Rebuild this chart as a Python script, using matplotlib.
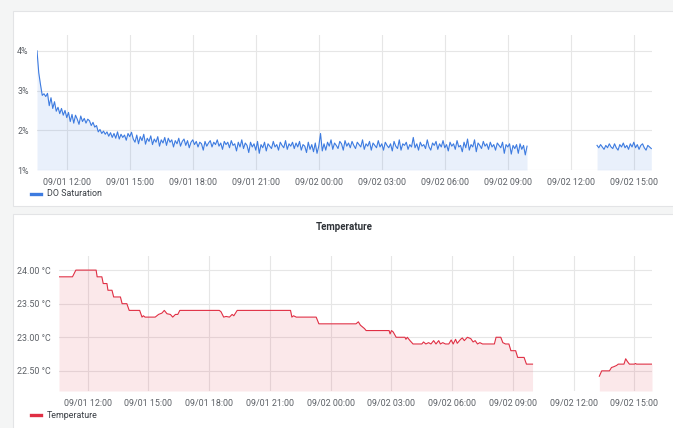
import matplotlib
matplotlib.use("Agg")
import matplotlib.pyplot as plt
import matplotlib.dates as mdates
from matplotlib.patches import Rectangle
from matplotlib.lines import Line2D
import numpy as np
import pandas as pd

plt.rcParams['font.family'] = ['Roboto', 'DejaVu Sans']

# ---------------- data ----------------
do_seg1_start = "2021-09-01 10:35"
do_seg1 = [
    4.0, 3.45, 3.15, 2.88, 2.92, 2.85, 2.93, 2.62, 2.82, 2.55, 2.72, 2.48, 2.58, 2.42, 2.55, 2.38,
    2.5, 2.32, 2.45, 2.22, 2.4, 2.18, 2.38, 2.28, 2.15, 2.36, 2.22, 2.3, 2.18, 2.28, 2.24, 2.12,
    2.2, 2.08, 2.12, 1.96, 2.02, 1.92, 1.98, 1.9, 1.96, 1.85, 1.94, 1.82, 1.92, 1.8, 1.96, 1.78,
    1.9, 1.82, 1.88, 1.75, 1.92, 1.84,
    1.95, 1.78, 1.70, 1.88, 1.66, 1.84, 1.74, 1.90, 1.65, 1.80, 1.72, 1.86, 1.64, 1.78, 1.70, 1.84, 1.60, 1.76, 1.68, 1.82,
    1.62, 1.80, 1.70, 1.76, 1.58, 1.74, 1.66, 1.80, 1.60, 1.72, 1.78, 1.62, 1.74, 1.56, 1.70, 1.76, 1.64, 1.72, 1.58, 1.70,
    1.66, 1.50, 1.72, 1.60, 1.68, 1.74, 1.58, 1.70, 1.64, 1.76, 1.60, 1.68, 1.52, 1.72, 1.64, 1.70, 1.56, 1.74, 1.62, 1.66,
    1.48, 1.70, 1.58, 1.76, 1.54, 1.68, 1.62, 1.44, 1.70, 1.58, 1.66, 1.50, 1.72, 1.42, 1.64, 1.56, 1.70, 1.48, 1.66, 1.60,
    1.54, 1.72, 1.58, 1.64, 1.50, 1.70, 1.62, 1.56, 1.74, 1.52, 1.66, 1.60, 1.70, 1.54, 1.68, 1.58, 1.72, 1.50, 1.64, 1.60,
    1.44, 1.70, 1.52, 1.64, 1.46, 1.68, 1.42, 1.60, 1.92, 1.48, 1.66, 1.50, 1.70, 1.60, 1.76, 1.52, 1.68, 1.62, 1.54, 1.72,
    1.66, 1.50, 1.74, 1.60, 1.68, 1.56, 1.72, 1.62, 1.54, 1.70, 1.64, 1.58, 1.76, 1.52, 1.66, 1.60, 1.72, 1.50, 1.68, 1.62,
    1.56, 1.74, 1.58, 1.66, 1.50, 1.70, 1.62, 1.56, 1.66, 1.48, 1.72, 1.60, 1.54, 1.76, 1.50, 1.66, 1.62, 1.70, 1.52, 1.64,
    1.58, 1.82, 1.56, 1.66, 1.50, 1.70, 1.60, 1.64, 1.54, 1.76, 1.58, 1.50, 1.68, 1.62, 1.72, 1.52, 1.66, 1.58, 1.74, 1.56,
    1.64, 1.48, 1.70, 1.60, 1.66, 1.52, 1.74, 1.58, 1.62, 1.46, 1.70, 1.56, 1.78, 1.50, 1.64, 1.58, 1.76, 1.46, 1.68, 1.62,
    1.54, 1.72, 1.60, 1.66, 1.52, 1.70, 1.58, 1.64, 1.50, 1.68, 1.62, 1.56, 1.70, 1.42, 1.64, 1.58, 1.66, 1.40, 1.62, 1.54,
    1.64, 1.42, 1.66, 1.52, 1.62, 1.38, 1.60,
]
do_seg2_start = "2021-09-02 13:15"
do_seg2 = [
    1.62, 1.56, 1.64, 1.58, 1.52, 1.62, 1.56, 1.66, 1.58, 1.54, 1.66, 1.56, 1.50, 1.64, 1.58, 1.68,
    1.56, 1.62, 1.52, 1.66, 1.58, 1.70, 1.56, 1.64, 1.52, 1.62, 1.66, 1.56, 1.50, 1.62, 1.58, 1.54,
]

temp_seg1_times = [
    "09-01 10:35", "09-01 11:15", "09-01 11:25", "09-01 12:25", "09-01 12:28", "09-01 12:42",
    "09-01 12:46", "09-01 12:57", "09-01 13:00", "09-01 13:12", "09-01 13:17", "09-01 13:37",
    "09-01 13:42", "09-01 13:56", "09-01 14:03", "09-01 14:34", "09-01 14:41", "09-01 14:45",
    "09-01 14:50", "09-01 15:20", "09-01 15:30", "09-01 15:40", "09-01 15:47", "09-01 15:55",
    "09-01 16:05", "09-01 16:12", "09-01 16:20", "09-01 16:27", "09-01 16:33", "09-01 18:30",
    "09-01 18:35", "09-01 18:43", "09-01 18:50", "09-01 19:00", "09-01 19:08", "09-01 19:13",
    "09-01 19:23", "09-01 22:01", "09-01 22:05", "09-01 22:10", "09-01 22:18", "09-01 23:17",
    "09-01 23:25", "09-02 01:15", "09-02 01:22", "09-02 01:28", "09-02 01:40", "09-02 01:45",
    "09-02 02:53", "09-02 02:56", "09-02 03:00", "09-02 03:05", "09-02 03:14", "09-02 03:40",
    "09-02 03:43", "09-02 03:47", "09-02 03:55", "09-02 04:04", "09-02 04:30", "09-02 04:35",
    "09-02 04:42", "09-02 04:50", "09-02 04:57", "09-02 05:05", "09-02 05:12", "09-02 05:20",
    "09-02 05:25", "09-02 05:32", "09-02 05:40", "09-02 05:50", "09-02 05:57", "09-02 06:03",
    "09-02 06:10", "09-02 06:15", "09-02 06:25", "09-02 06:30", "09-02 06:36", "09-02 06:45",
    "09-02 06:55", "09-02 07:02", "09-02 07:08", "09-02 07:15", "09-02 07:22", "09-02 07:30",
    "09-02 07:45", "09-02 08:05", "09-02 08:10", "09-02 08:24", "09-02 08:30", "09-02 08:38",
    "09-02 08:48", "09-02 08:54", "09-02 09:08", "09-02 09:14", "09-02 09:33", "09-02 09:40",
    "09-02 09:58",
]
temp_seg1_values = [
    23.90, 23.90, 24.00, 24.00, 23.90, 23.90,
    23.80, 23.80, 23.70, 23.70, 23.60, 23.60,
    23.50, 23.50, 23.40, 23.40, 23.30, 23.32,
    23.30, 23.30, 23.34, 23.36, 23.40, 23.35,
    23.34, 23.30, 23.34, 23.34, 23.40, 23.40,
    23.38, 23.30, 23.31, 23.30, 23.34, 23.32,
    23.40, 23.40, 23.30, 23.32, 23.30, 23.30,
    23.20, 23.20, 23.23, 23.18, 23.13, 23.10,
    23.10, 23.05, 23.10, 23.08, 23.00, 23.00,
    22.97, 23.00, 22.95, 22.90, 22.90, 22.93,
    22.90, 22.92, 22.90, 22.95, 22.90, 22.95,
    22.90, 22.92, 22.90, 22.90, 22.96, 22.90,
    22.97, 22.91, 22.97, 22.99, 22.95, 23.00,
    22.98, 22.93, 22.95, 22.90, 22.92, 22.90,
    22.90, 22.90, 23.00, 23.00, 22.92, 22.90,
    22.90, 22.80, 22.80, 22.70, 22.70, 22.60,
    22.60,
]
temp_seg2_times = [
    "09-02 13:16", "09-02 13:23", "09-02 13:46", "09-02 13:52", "09-02 13:58", "09-02 14:07",
    "09-02 14:12", "09-02 14:29", "09-02 14:34", "09-02 14:39", "09-02 14:45", "09-02 15:00",
    "09-02 15:03", "09-02 15:06", "09-02 15:52",
]
temp_seg2_values = [
    22.42, 22.50, 22.50, 22.55, 22.56, 22.58,
    22.60, 22.60, 22.68, 22.64, 22.60, 22.60,
    22.61, 22.60, 22.60,
]

x_start = "2021-09-01 10:35"
x_end = "2021-09-02 15:52"

# ---------------- styling ----------------
W, H = 673, 428
BG = "#f4f5f5"
PANEL_EDGE = "#e3e4e6"
GRID = "#e6e6e6"
TICK = "#5c6066"
BLUE = "#3d7be0"
RED = "#e02f44"
FS = 6.4

fig = plt.figure(figsize=(W / 100, H / 100), dpi=100)
fig.patch.set_facecolor(BG)

def fx(px):
    return px / W

def fy(py):
    return 1 - py / H

def panel(x0, y0, x1, y1):
    fig.patches.append(Rectangle((fx(x0), fy(y1)), fx(x1 - x0), (y1 - y0) / H,
                                 transform=fig.transFigure, facecolor="white",
                                 edgecolor=PANEL_EDGE, linewidth=0.8, zorder=-10))

panel(12.5, 11.5, 680, 206.5)
panel(12.5, 214.5, 680, 440)

def make_ax(l, t, r, b):
    ax = fig.add_axes([fx(l), fy(b), fx(r - l), (b - t) / H])
    ax.set_zorder(2)
    ax.set_facecolor("none")
    ax.patch.set_alpha(0)
    for s in ax.spines.values():
        s.set_visible(False)
    ax.grid(True, color=GRID, linewidth=0.8)
    ax.set_axisbelow(True)
    ax.tick_params(length=0, labelsize=FS, colors=TICK, pad=6)
    ax.xaxis.set_major_locator(mdates.HourLocator(byhour=[0, 3, 6, 9, 12, 15, 18, 21]))
    ax.xaxis.set_major_formatter(mdates.DateFormatter("%m/%d %H:%M"))
    ax.set_xlim(pd.Timestamp(x_start), pd.Timestamp(x_end))
    return ax

# ---- top: DO saturation ----
ax1 = make_ax(37, 35, 652, 170)
t1 = pd.date_range(do_seg1_start, periods=len(do_seg1), freq="5min")
t2 = pd.date_range(do_seg2_start, periods=len(do_seg2), freq="5min")
for t, v in ((t1, do_seg1), (t2, do_seg2)):
    ax1.plot(t, v, color=BLUE, linewidth=0.8, zorder=3)
    ax1.fill_between(t, v, 1.0, color=BLUE, alpha=0.11, linewidth=0, zorder=2)
ax1.set_ylim(1.0, 4.4)
ax1.set_yticks([1, 2, 3, 4])
ax1.set_yticklabels(["1%", "2%", "3%", "4%"])

fig.add_artist(Line2D([fx(31), fx(41)], [fy(194), fy(194)], color=BLUE, linewidth=2.4,
                      transform=fig.transFigure))
fig.text(fx(47), fy(194), "DO Saturation", fontsize=FS, color="#3a3f45", va="center", ha="left")

# ---- bottom: temperature ----
ax2 = make_ax(59, 256, 652, 391)
year = "2021-"
for times, vals in ((temp_seg1_times, temp_seg1_values), (temp_seg2_times, temp_seg2_values)):
    tt = pd.to_datetime([year + s for s in times])
    ax2.plot(tt, vals, color=RED, linewidth=0.8, zorder=3)
    ax2.fill_between(tt, vals, 22.2, color=RED, alpha=0.11, linewidth=0, zorder=2)
ax2.set_ylim(22.2, 24.21)
ax2.set_yticks([22.5, 23.0, 23.5, 24.0])
ax2.set_yticklabels(["22.50 °C", "23.00 °C", "23.50 °C", "24.00 °C"])

fig.text(fx(344), fy(227), "Temperature", fontsize=7, fontweight="bold",
         color="#2f3338", ha="center", va="center")
fig.add_artist(Line2D([fx(31), fx(41)], [fy(415), fy(415)], color=RED, linewidth=2.4,
                      transform=fig.transFigure))
fig.text(fx(47), fy(415), "Temperature", fontsize=FS, color="#3a3f45", va="center", ha="left")

fig.savefig("out.png", dpi=100, facecolor=BG)
